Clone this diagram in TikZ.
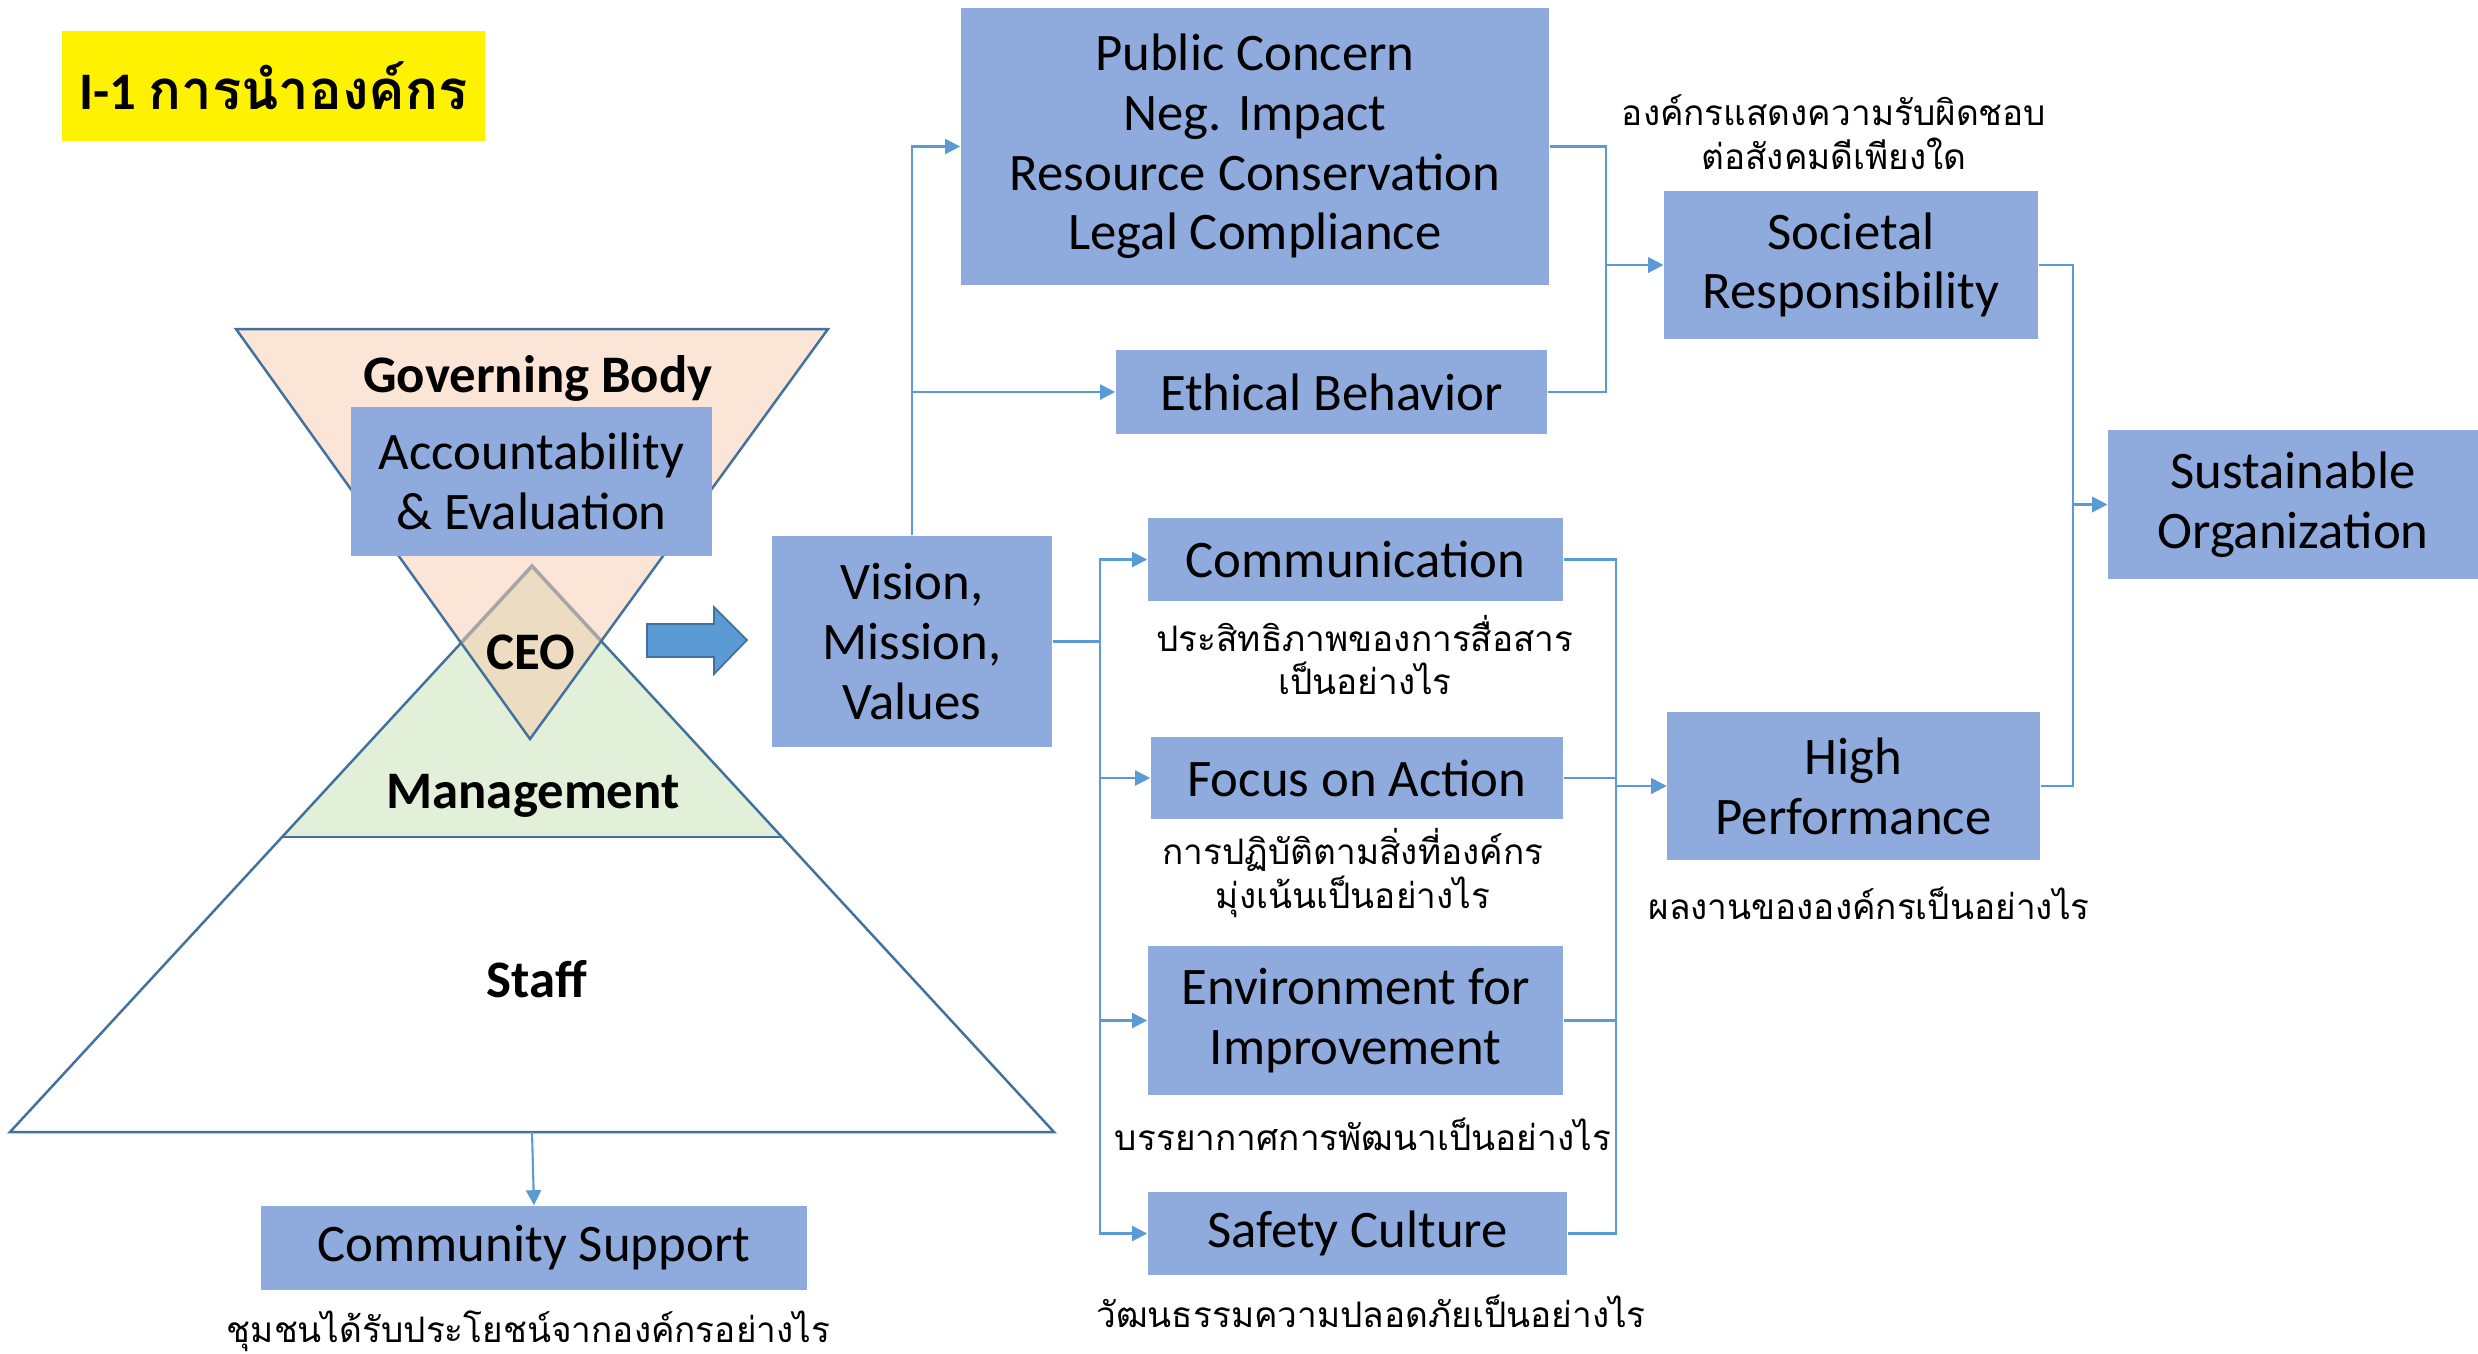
\documentclass[tikz,border=0pt]{standalone}
\usepackage{fontspec}
\setmainfont{Carlito}
\newfontfamily\thaifont[Script=Thai]{Loma}
\usetikzlibrary{arrows.meta,positioning}
\definecolor{boxblue}{HTML}{8FAADC}
\definecolor{linkblue}{HTML}{5B9BD5}
\definecolor{edgeblue}{HTML}{41719C}
\definecolor{govpeach}{HTML}{FBE5D6}
\definecolor{mgmtgreen}{HTML}{E2F0D9}
\definecolor{ceotan}{RGB}{236,220,193}
\tikzset{%
	block/.style   = {fill=boxblue, inner sep=0pt, align=center, font=\fontsize{15}{17}\selectfont},
	note/.style    = {inner sep=0pt, align=center, font=\thaifont\fontsize{10}{12.5}\selectfont},
	tritext/.style = {inner sep=0pt, font=\bfseries\fontsize{15}{17}\selectfont},
	tri/.style     = {draw=edgeblue, line width=0.7pt, line join=miter},
	link/.style    = {draw=linkblue, line width=0.6pt, -{Triangle[length=4.3pt,width=4.3pt]}},
}

\begin{document}
\begin{tikzpicture}[x=0.01cm, y=-0.01cm]
	\useasboundingbox (0,0) rectangle (2478,1353);
	
	% title
	\node[fill=yellow, minimum width=4.23cm, minimum height=1.10cm, inner sep=0pt] (ttl) at (273.5,86)
		{\fontsize{15}{17}\selectfont\bfseries I-1 {\thaifont\fontsize{15.5}{18}\selectfont\bfseries การนำองค์กร}};
	
	% pyramid of the organisation
	\coordinate (apex) at (532,566);
	\coordinate (bl) at (10,1132);
	\coordinate (br) at (1054,1132);
	\coordinate (gl) at (236,329);
	\coordinate (gr) at (828,329);
	\coordinate (gapex) at (530,739);
	\fill[white] (apex) -- (br) -- (bl) -- cycle;
	\begin{scope}
		\clip (apex) -- (br) -- (bl) -- cycle;
		\fill[mgmtgreen] (0,500) rectangle (1100,837);
	\end{scope}
	\draw[tri] (282,837) -- (782,837);
	\draw[tri] (apex) -- (br) -- (bl) -- cycle;
	\fill[govpeach] (gl) -- (gr) -- (gapex) -- cycle;
	\begin{scope}
		\clip (apex) -- (br) -- (bl) -- cycle;
		\fill[ceotan] (gl) -- (gr) -- (gapex) -- cycle;
	\end{scope}
	\begin{scope}
		\clip (gl) -- (gr) -- (gapex) -- cycle;
		\draw[gray!70, line width=1pt] (bl) -- (apex) -- (br);
	\end{scope}
	\draw[tri] (gl) -- (gr) -- (gapex) -- cycle;
	
	\node[tritext] (gov) at (538,378) {Governing Body};
	\node[block, minimum width=3.61cm, minimum height=1.49cm] (acc) at (531.5,481.5) {Accountability\\\& Evaluation};
	\node[tritext] (ceo) at (531,652) {CEO};
	\node[tritext] (mgmt) at (533,796) {Management};
	\node[tritext] (staff) at (537,979) {Staff};
	
	% block arrow
	\filldraw[fill=linkblue, draw=edgeblue, line width=0.5pt] (647,624) -- (714,624) -- (714,607) -- (747,640)
		-- (714,674) -- (714,657) -- (647,657) -- cycle;
	
	% boxes
	\node[block, minimum width=2.80cm, minimum height=2.11cm] (vis) at (912,641.5) {Vision,\\Mission,\\Values};
	\node[block, minimum width=5.88cm, minimum height=2.77cm] (pc) at (1255,146.5)
		{Public Concern\\Neg. Impact\\Resource Conservation\\Legal Compliance};
	\node[block, minimum width=4.31cm, minimum height=0.83cm] (eth) at (1331.5,392) {Ethical Behavior};
	\node[block, minimum width=4.15cm, minimum height=0.83cm] (comm) at (1355.5,559.5) {Communication};
	\node[block, minimum width=4.12cm, minimum height=0.82cm] (focus) at (1357,778) {Focus on Action};
	\node[block, minimum width=4.15cm, minimum height=1.49cm] (env) at (1355.5,1020.5) {Environment for\\Improvement};
	\node[block, minimum width=4.19cm, minimum height=0.83cm] (safe) at (1357.5,1233.5) {Safety Culture};
	\node[block, minimum width=3.74cm, minimum height=1.48cm] (soc) at (1851,265) {Societal\\Responsibility};
	\node[block, minimum width=3.73cm, minimum height=1.48cm] (high) at (1853.5,786) {High\\Performance};
	\node[block, minimum width=3.70cm, minimum height=1.49cm] (sus) at (2293,504.5) {Sustainable\\Organization};
	\node[block, minimum width=5.46cm, minimum height=0.84cm] (comsup) at (534,1248) {Community Support};
	
	% questions
	\node[note] (commq) at (1365,655) {ประสิทธิภาพของการสื่อสาร\\เป็นอย่างไร};
	\node[note] (focusq) at (1353,872.5) {การปฏิบัติตามสิ่งที่องค์กร\\มุ่งเน้นเป็นอย่างไร};
	\node[note] (envq) at (1363,1134) {บรรยากาศการพัฒนาเป็นอย่างไร};
	\node[note] (safeq) at (1371,1311) {วัฒนธรรมความปลอดภัยเป็นอย่างไร};
	\node[note] (socq) at (1834,132) {องค์กรแสดงความรับผิดชอบ\\ต่อสังคมดีเพียงใด};
	\node[note] (highq) at (1869,903) {ผลงานขององค์กรเป็นอย่างไร};
	\node[note] (comsupq) at (528.5,1331) {ชุมชนได้รับประโยชน์จากองค์กรอย่างไร};
	
	% connectors
	\coordinate (lbus) at (1100,641.5);
	\coordinate (rbus) at (1616,786);
	\coordinate (sbus) at (1606,265);
	\coordinate (obus) at (2073,504.5);
	\coordinate (base) at (532,1132);
	\draw[link] (vis.north) |- (pc.west);
	\draw[link] (vis.north) |- (eth.west);
	\foreach \t in {comm,focus,env,safe}
		\draw[link] (vis.east) -- (lbus) |- (\t.west);
	\foreach \s in {comm,focus,env,safe}
		\draw[link] (\s.east) -| (rbus) -- (high.west);
	\foreach \s in {pc,eth}
		\draw[link] (\s.east) -| (sbus) -- (soc.west);
	\foreach \s in {soc,high}
		\draw[link] (\s.east) -| (obus) -- (sus.west);
	\draw[link] (base) -- (comsup.north);
\end{tikzpicture}
\end{document}
